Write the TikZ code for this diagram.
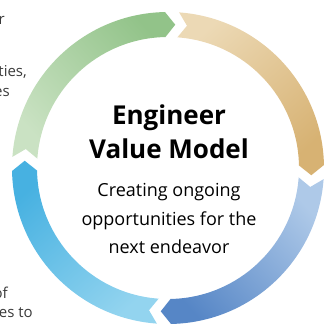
\documentclass[tikz,border=0pt]{standalone}
\usepackage{fontspec}
\setmainfont{Open Sans}
\usetikzlibrary{positioning}
\definecolor{greenlight}{HTML}{CAE2C3}
\definecolor{greendark}{HTML}{92C389}
\definecolor{tanlight}{HTML}{ECD9B5}
\definecolor{tandark}{HTML}{D7B273}
\definecolor{bluelight}{HTML}{AEC9E8}
\definecolor{bluedark}{HTML}{5686C6}
\definecolor{skylight}{HTML}{93D4EF}
\definecolor{skydark}{HTML}{47B1E1}
\definecolor{textgray}{HTML}{3A3A3A}
\newcommand{\Rout}{156pt}
\newcommand{\Rin}{131pt}
\newcommand{\Rmid}{143.5pt}
% #1 tail angle, #2 head angle, #3 tail colour, #4 head colour, #5 shading angle
\newcommand{\cyclearrow}[5]{%
  \shade[top color=#4, bottom color=#3, shading angle=#5]
    (#1:\Rout) arc[start angle=#1, end angle=#2+4, radius=\Rout]
    -- (#2:\Rmid) -- (#2+4:\Rin)
    arc[start angle=#2+4, end angle=#1, radius=\Rin]
    -- (#1-3.5:\Rmid) -- cycle;}

\begin{document}
\begin{tikzpicture}[
  x=1pt, y=1pt,
  title/.style={font=\fontsize{26}{34}\selectfont\bfseries, align=center, inner sep=0pt},
  tagline/.style={font=\fontsize{18}{28.5}\selectfont, align=center, inner sep=0pt},
  fragment/.style={font=\fontsize{15}{20}\selectfont, text=textgray, inner sep=0pt, anchor=base east},
  node distance=24pt
]
\useasboundingbox (-168,-158) rectangle (157,168);
\coordinate (hub) at (0,0);

% the four arrows of the cycle, clockwise
\cyclearrow{175.9}{87.1}{greenlight}{greendark}{311.5}
\cyclearrow{85.9}{-2.9}{tanlight}{tandark}{221.5}
\cyclearrow{-4.1}{-92.9}{bluelight}{bluedark}{131.5}
\cyclearrow{-94.1}{-182.9}{skylight}{skydark}{41.5}

\node[title] (title) at (1,36) {Engineer\\Value Model};
\node[tagline, below=of title] (tagline) {Creating ongoing\\opportunities for the\\next endeavor};

% text cut off at the left edge
\node[fragment] (fragA) at (-163,143) {r};
\node[fragment] (fragB) at (-141,91) {ties,};
\node[fragment] (fragC) at (-158,71) {es};
\node[fragment] (fragD) at (-160,-130) {of};
\node[fragment] (fragE) at (-135,-149) {es to};
\end{tikzpicture}
\end{document}
